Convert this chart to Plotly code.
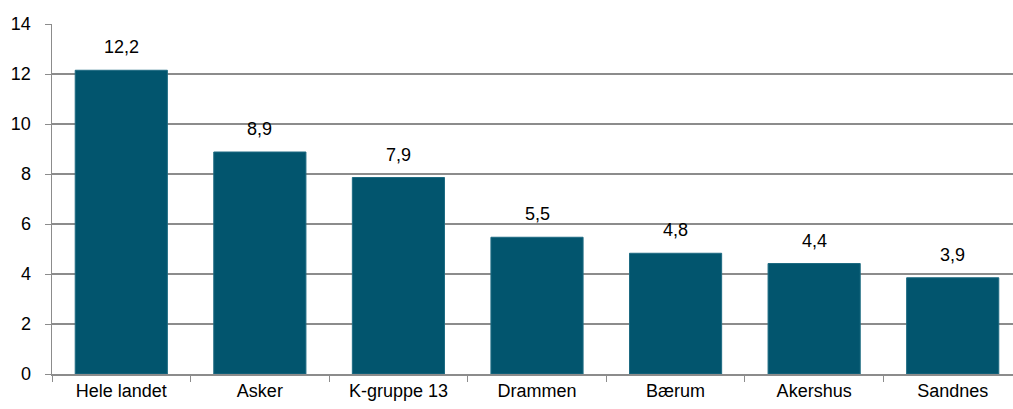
import plotly.graph_objects as go

categories = ["Hele landet", "Asker", "K-gruppe 13", "Drammen", "Bærum", "Akershus", "Sandnes"]
values = [12.15, 8.88, 7.86, 5.47, 4.83, 4.42, 3.85]
labels = ["12,2", "8,9", "7,9", "5,5", "4,8", "4,4", "3,9"]
y_ticks = [0, 2, 4, 6, 8, 10, 12, 14]

fig = go.Figure()
fig.add_trace(go.Bar(
    x=categories, y=values,
    marker=dict(color="#02556E", line=dict(color="#1E6B82", width=1)),
    width=0.665, hoverinfo="skip",
))

# value labels sit a bit above each bar
for cat, val, lab in zip(categories, values, labels):
    fig.add_annotation(x=cat, y=val, text=lab, showarrow=False,
                       yanchor="bottom", yshift=11,
                       font=dict(size=18, color="#000000"))

# the original chart runs slightly past the right edge of the picture
fig.update_layout(
    width=1022, height=409,
    margin=dict(l=52, r=0, t=24, b=35),
    paper_bgcolor="white", plot_bgcolor="white",
    font=dict(family="Liberation Sans, Arial", size=18, color="#000000"),
    showlegend=False,
)
fig.update_xaxes(
    showline=True, linecolor="#8c8c8c", linewidth=1.5,
    ticks="outside", tickson="boundaries", ticklen=6, tickcolor="#8c8c8c",
    showgrid=False, automargin=False,
)
fig.update_yaxes(
    range=[0, 14], tickvals=y_ticks,
    showline=True, linecolor="#8c8c8c", linewidth=1.5,
    ticks="outside", ticklen=6, tickcolor="#8c8c8c",
    showgrid=True, gridcolor="#8c8c8c", gridwidth=1.2,
    zeroline=False, automargin=False, ticklabelstandoff=10,
)

# drop the default page margin and hide the overflow
page_js = "document.body.style.margin='0';document.body.style.overflow='hidden';"
fig.write_html("out.html", post_script=page_js,
               config={"displayModeBar": False, "staticPlot": True})
